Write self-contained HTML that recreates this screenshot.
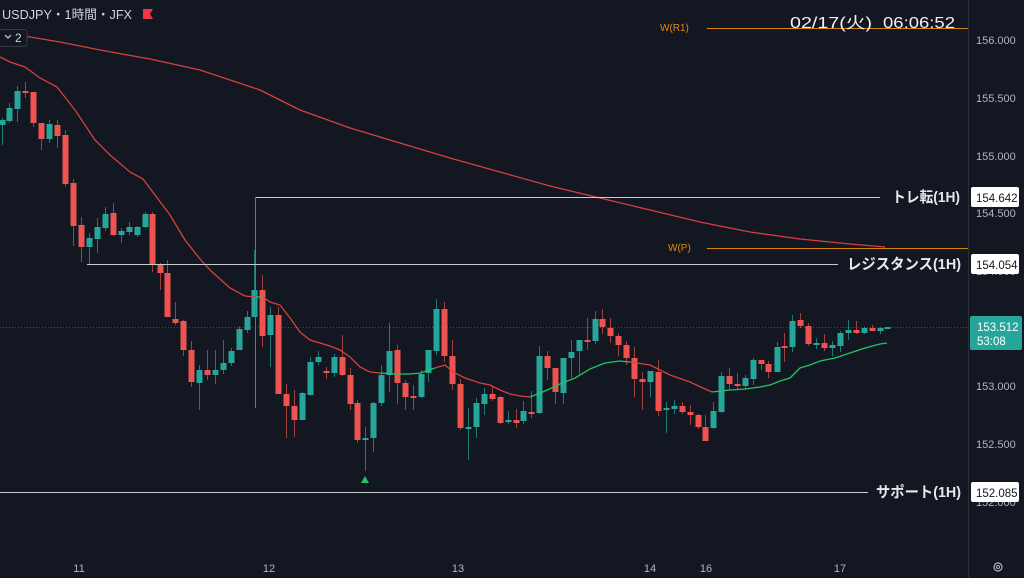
<!DOCTYPE html>
<html><head><meta charset="utf-8"><style>
html,body{margin:0;padding:0;background:#131722;width:1024px;height:578px;overflow:hidden}
svg{display:block}
text{font-family:"Liberation Sans","Noto Sans CJK JP",sans-serif}
</style></head><body>
<svg id="s" width="1024" height="578" xmlns="http://www.w3.org/2000/svg">
<rect width="1024" height="578" fill="#131722"/>
<line x1="968.5" y1="0" x2="968.5" y2="578" stroke="#2a2e39"/>
<g id="c"></g>
<line x1="0" y1="327.5" x2="968" y2="327.5" stroke="#26a69a" stroke-opacity="0.5" stroke-dasharray="1,2"/>
<line x1="255" y1="197.5" x2="880" y2="197.5" stroke="#c8cad0" stroke-width="1"/>
<line x1="255.5" y1="197" x2="255.5" y2="408" stroke="#3d8a80" stroke-width="1"/>
<line x1="87" y1="264.5" x2="838" y2="264.5" stroke="#c8cad0"/>
<line x1="0" y1="492.5" x2="868" y2="492.5" stroke="#c8cad0"/>
<line x1="707" y1="28.5" x2="968" y2="28.5" stroke="#d9820f"/>
<line x1="707" y1="248.5" x2="968" y2="248.5" stroke="#d9820f"/>
<text x="660" y="31" fill="#e08a12" font-size="10">W(R1)</text>
<text x="668" y="251" fill="#e08a12" font-size="10">W(P)</text>
<text x="892" y="202" fill="#e6e8ee" font-size="15" font-weight="bold" textLength="68" lengthAdjust="spacingAndGlyphs">トレ転(1H)</text>
<text x="847" y="269" fill="#e6e8ee" font-size="15" font-weight="bold" textLength="114" lengthAdjust="spacingAndGlyphs">レジスタンス(1H)</text>
<text x="876" y="497" fill="#e6e8ee" font-size="15" font-weight="bold" textLength="85" lengthAdjust="spacingAndGlyphs">サポート(1H)</text>
<polygon points="365,476 361,483 369,483" fill="#22c55e"/>
<g fill="#b2b5be" font-size="11">
<text x="976" y="44">156.000</text>
<text x="976" y="102">155.500</text>
<text x="976" y="160">155.000</text>
<text x="976" y="217">154.500</text>
<text x="976" y="275">154.000</text>
<text x="976" y="390">153.000</text>
<text x="976" y="448">152.500</text>
<text x="976" y="506">152.000</text>
</g>
<rect x="971" y="187" width="48" height="20" rx="2" fill="#fff"/>
<text x="976" y="202" fill="#131722" font-size="11.5">154.642</text>
<rect x="971" y="254" width="48" height="20" rx="2" fill="#fff"/>
<text x="976" y="269" fill="#131722" font-size="11.5">154.054</text>
<rect x="971" y="482" width="48" height="20" rx="2" fill="#fff"/>
<text x="976" y="497" fill="#131722" font-size="11.5">152.085</text>
<rect x="970" y="316" width="52" height="34" rx="2" fill="#26a69a"/>
<text x="977" y="331" fill="#fff" font-size="11.5">153.512</text>
<text x="977" y="345" fill="#fff" font-size="11.5">53:08</text>
<g fill="#b2b5be" font-size="11" text-anchor="middle">
<text x="79" y="572">11</text><text x="269" y="572">12</text><text x="458" y="572">13</text>
<text x="650" y="572">14</text><text x="706" y="572">16</text><text x="840" y="572">17</text>
</g>
<circle cx="998" cy="567" r="4" fill="none" stroke="#b2b5be" stroke-width="1.2"/>
<circle cx="998" cy="567" r="1.5" fill="none" stroke="#b2b5be"/>
<text x="790" y="28" fill="#f0f2f5" font-size="16" textLength="82" lengthAdjust="spacingAndGlyphs">02/17(火)</text>
<text x="883" y="28" fill="#f0f2f5" font-size="16" textLength="72" lengthAdjust="spacingAndGlyphs">06:06:52</text>
<text x="2" y="19" fill="#d1d4dc" font-size="13" textLength="130" lengthAdjust="spacingAndGlyphs">USDJPY・1時間・JFX</text>
<polygon points="143,9 153,9 150,14 153,19 143,19" fill="#f23645"/>
<rect x="-1" y="29.5" width="28" height="17" rx="3" fill="#131722" stroke="#363a45"/>
<path d="M5 35 L8 38 L11 35" fill="none" stroke="#d1d4dc" stroke-width="1.2"/>
<text x="15" y="42" fill="#d1d4dc" font-size="12">2</text>
</svg>
<script>
var C=[
[2,'g',120,125,118,145],[9,'g',108,121,103,123],[17,'g',91,109,86,122],[25,'r',91,93,82,98],[33,'r',92,123,92,127],[41,'r',123,139,123,150],[49,'g',124,139,120,143],[57,'r',125,136,120,148],[65,'r',135,184,130,187],[73,'r',183,226,179,246],[81,'r',225,247,217,262],[89,'g',238,247,233,265],[97,'g',227,239,218,253],[105,'g',214,228,207,231],[113,'r',213,235,203,236],[121,'g',231,235,228,243],[129,'g',227,232,222,235],[137,'g',227,235,226,237],[145,'g',214,227,212,228],[152,'r',214,265,212,272],
[160,'r',265,273,263,290],[167,'r',273,317,260,317],[175,'r',319,323,302,325],[183,'r',321,350,320,356],[191,'r',350,382,341,387],[199,'g',370,383,365,410],[207,'r',370,375,350,380],[215,'g',370,375,350,384],[223,'g',363,370,340,374],[231,'g',351,363,348,366],[239,'g',329,350,326,350],[247,'g',317,330,311,333],[254,'g',290,317,250,290],[262,'r',290,336,275,347],[270,'g',315,335,307,367],[278,'r',315,394,307,394],[286,'r',394,406,384,438],[294,'r',406,420,390,437],[302,'g',393,420,392,420],[310,'g',362,395,357,396],[318,'g',357,362,351,365],[326,'r',371,372,367,379],[334,'g',357,373,354,377],[342,'r',357,375,335,376],[350,'r',375,404,368,410],[357,'r',403,440,400,443],[365,'g',438,439,427,471],[373,'g',403,438,402,452],[381,'g',375,403,365,406],[389,'g',351,375,323,392],[397,'r',350,383,345,404],[405,'r',383,397,380,410],[413,'r',396,397,385,410],[421,'g',374,397,370,398],[428,'g',350,373,350,382],[436,'g',309,351,299,355],[444,'r',309,356,302,362],[452,'r',356,384,340,390],[460,'r',384,428,379,430],[468,'g',427,428,408,460],
[476,'g',403,427,398,438],[484,'g',394,404,388,415],[492,'r',394,399,387,401],[500,'r',397,423,396,424],[508,'g',420,422,411,424],[516,'r',420,423,409,428],[523,'g',411,421,401,424],[531,'r',412,413,391,418],[539,'g',356,413,346,414],[547,'r',356,368,351,380],[555,'r',368,392,368,404],[563,'g',358,393,358,404],[571,'g',352,358,340,378],[579,'g',340,351,340,374],[587,'r',340,341,318,350],[595,'g',319,341,311,344],[602,'r',319,327,309,334],[610,'r',328,336,318,343],[618,'r',336,345,333,356],[626,'r',345,358,341,365],[634,'r',358,379,347,397],[642,'r',379,382,372,410],[650,'g',371,382,371,397],[658,'r',372,411,360,416],[666,'g',408,410,402,433],[674,'g',406,409,400,414],[682,'r',406,412,402,414],[690,'r',412,415,405,425],[698,'r',415,427,414,429],[705,'r',427,441,415,441],[713,'g',411,428,402,429],[721,'g',376,412,372,413],[729,'r',376,384,368,390],[737,'r',384,386,373,390],[745,'g',378,386,375,390],[753,'g',360,379,358,385],[761,'r',360,364,360,370],[768,'r',364,372,361,378],[777,'g',347,372,342,372],[784,'r',346,347,333,362],[792,'g',321,347,315,352],[800,'r',320,326,313,328],[808,'r',326,344,323,346],[816,'g',343,344,338,349],[824,'r',343,348,334,351],[832,'g',345,348,341,356],[840,'g',333,346,331,352],[848,'g',330,333,320,340],[856,'r',330,333,321,334],[864,'g',328,333,327,334],[872,'r',328,331,325,331],[880,'g',328,331,327,334],[887,'g',327,328,327,328]];
var h='';
C.forEach(function(c){var col=c[1]=='g'?'#26a69a':'#ef5350';var wc=c[1]=='g'?'#1f7a72':'#a33e3c';
h+='<line x1="'+(c[0]+.5)+'" y1="'+c[4]+'" x2="'+(c[0]+.5)+'" y2="'+c[5]+'" stroke="'+wc+'"/>';
var hh=Math.max(c[3]-c[2],2);h+='<rect x="'+(c[0]-2.5)+'" y="'+c[2]+'" width="6" height="'+hh+'" fill="'+col+'"/>';});
function pl(p,col){return '<polyline fill="none" stroke="'+col+'" stroke-width="1.3" points="'+p+'"/>';}
h+=pl('0,34 30,37 60,42 100,50 150,59 200,70 260,90 300,110 350,128 400,143 450,158 500,172 550,186 600,198 650,210 700,222 750,232 800,239 850,244 885,247','#d6403f');
h+=pl('0,57 10,62 25,67 40,78 57,87 75,110 95,140 110,155 130,172 143,179 155,195 170,215 185,240 200,259 210,270 230,288 245,296 255,297','#d6403f');
h+=pl('255,297 263,297','#22c55e');
h+=pl('263,297 270,302 280,305 290,318 300,332 310,340 330,346 340,350 350,357 360,367 370,372 380,373','#d6403f');
h+=pl('380,373 395,374 410,374 420,373 435,368','#22c55e');
h+=pl('435,368 445,365 453,372 465,378 480,383 490,385 500,390 510,394 520,396 530,397','#d6403f');
h+=pl('530,397 545,391 560,384 575,378 590,369 605,363 620,361 630,362','#22c55e');
h+=pl('630,362 650,365 660,370 670,375 690,382 705,389 712,392','#d6403f');
h+=pl('712,392 730,390 745,389 760,387 770,385 780,381 790,378 800,368 810,365 820,361 835,358 850,353 865,348 880,344 887,343','#22c55e');
document.getElementById('c').innerHTML=h;
</script>
</body></html>
